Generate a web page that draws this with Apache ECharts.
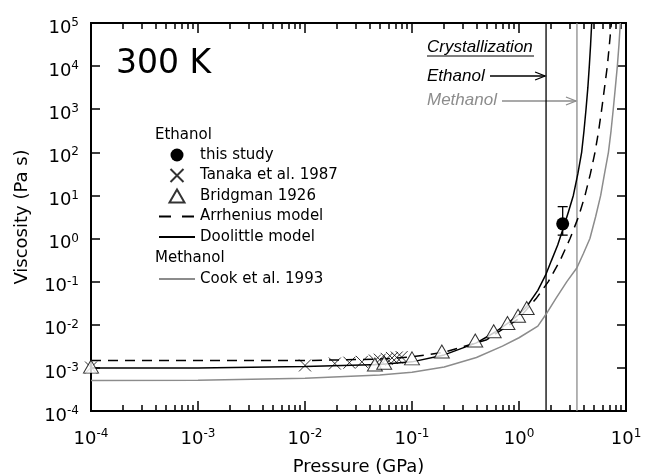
<!DOCTYPE html>
<html>
<head>
<meta charset="utf-8">
<script src="https://cdn.jsdelivr.net/npm/echarts@6/dist/echarts.min.js"></script>
<style>
html, body { margin: 0; padding: 0; background: #fff; }
#chart { width: 653px; height: 476px; }
</style>
</head>
<body>
<div id="chart"></div>
<script>
// pressure (GPa), viscosity (Pa s)
const thisStudy = [[2.56, 2.2]]
const thisStudyErr = [[2.56, 1.2, 5.5]]  // x, low, high

const tanaka1987 = [
  [1e-4, 1.02e-3], [0.01, 1.14e-3], [0.019, 1.26e-3], [0.026, 1.32e-3],
  [0.034, 1.38e-3], [0.045, 1.48e-3], [0.05, 1.55e-3], [0.058, 1.62e-3],
  [0.065, 1.7e-3], [0.072, 1.74e-3], [0.08, 1.78e-3]
]

const bridgman1926 = [
  [1e-4, 1.07e-3], [0.045, 1.2e-3], [0.055, 1.32e-3], [0.1, 1.66e-3],
  [0.19, 2.4e-3], [0.39, 4.3e-3], [0.58, 7.1e-3], [0.78, 1.1e-2],
  [0.98, 1.62e-2], [1.18, 2.45e-2]
]

const arrhenius = [
  [1e-4, 1.48e-3], [0.01, 1.48e-3], [0.05, 1.6e-3], [0.1, 1.8e-3],
  [0.2, 2.3e-3], [0.5, 4.5e-3], [1.0, 1.4e-2], [1.46, 4.2e-2],
  [1.88, 0.1], [2.45, 0.33], [3.0, 1.0], [3.6, 3.2], [4.14, 10],
  [4.65, 32], [5.13, 100], [5.55, 316], [5.93, 1000], [6.3, 3160],
  [6.69, 1e4], [7.0, 3.2e4], [7.3, 1e5]
]

const doolittle = [
  [1e-4, 1.0e-3], [1e-3, 1.0e-3], [0.01, 1.07e-3], [0.05, 1.2e-3],
  [0.1, 1.38e-3], [0.2, 2.0e-3], [0.4, 3.8e-3], [0.6, 6.8e-3],
  [0.8, 1.12e-2], [1.0, 1.74e-2], [1.2, 2.8e-2], [1.5, 6.3e-2],
  [1.79, 0.15], [2.0, 0.3], [2.3, 0.71], [2.6, 1.78], [2.9, 4.2],
  [3.22, 10], [3.55, 32], [3.85, 100], [4.05, 316], [4.23, 1000],
  [4.4, 3160], [4.54, 1e4], [4.67, 3.2e4], [4.78, 1e5]
]

const cook1993 = [
  [1e-4, 5.1e-4], [1e-3, 5.2e-4], [0.01, 5.75e-4], [0.05, 6.8e-4],
  [0.1, 7.9e-4], [0.2, 1.05e-3], [0.4, 1.74e-3], [0.7, 3.2e-3],
  [1.0, 5.0e-3], [1.5, 9.3e-3], [1.8, 1.8e-2], [2.2, 4.0e-2],
  [2.8, 0.1], [3.48, 0.21], [4.0, 0.45], [4.6, 1.0], [5.2, 3.2],
  [5.8, 10], [6.3, 32], [6.85, 100], [7.25, 316], [7.6, 1000],
  [7.95, 3160], [8.3, 1e4], [8.6, 3.2e4], [8.85, 1e5]
]

// crystallization pressures (GPa)
const crystEthanol = 1.79
const crystMethanol = 3.48

const xMajor = [1e-4, 1e-3, 1e-2, 1e-1, 1, 10]
const yMajor = [1e-4, 1e-3, 1e-2, 1e-1, 1, 10, 100, 1e3, 1e4, 1e5]
const xMinor = []
xMajor.slice(0, -1).forEach(d => {
  for (let k = 2; k <= 9; k++) xMinor.push(k * d)
})

const font = 'DejaVu Sans'
const gray = '#8c8c8c'
const triangle = 'path://M5,0L10,8.66L0,8.66Z'

const powLabel = v => '{b|10}{s|' + Math.round(Math.log10(v)) + '}'
const powRich = {
  b: { fontSize: 18, fontFamily: font, color: '#000', lineHeight: 22 },
  s: { fontSize: 12, fontFamily: font, color: '#000', lineHeight: 16, verticalAlign: 'top' }
}

function logAxis (min, max, pos, ticks, len, extra) {
  return Object.assign({
    type: 'log',
    logBase: 10,
    min: min,
    max: max,
    position: pos,
    splitLine: { show: false },
    minorTick: { show: false },
    axisLine: { show: true, lineStyle: { color: '#000', width: 2 } },
    axisTick: { show: true, inside: true, length: len, customValues: ticks, lineStyle: { color: '#000', width: 1.5 } },
    axisLabel: { show: false }
  }, extra || {})
}

const chart = echarts.init(document.getElementById('chart'))

const lineLegendStyle = { color: 'transparent', borderColor: 'transparent' }

const option = {
  animation: false,
  backgroundColor: '#fff',
  grid: { left: 91, right: 27, top: 23, bottom: 65, containLabel: false, outerBoundsMode: 'none' },
  xAxis: [
    logAxis(1e-4, 10, 'bottom', xMajor, 10, {
      axisLabel: { show: true, customValues: xMajor, formatter: powLabel, rich: powRich, margin: 17 },
      name: 'Pressure (GPa)',
      nameLocation: 'middle',
      nameGap: 47,
      nameTextStyle: { fontFamily: font, fontSize: 18, color: '#000' }
    }),
    logAxis(1e-4, 10, 'bottom', xMinor, 6),
    logAxis(1e-4, 10, 'top', xMajor, 10),
    logAxis(1e-4, 10, 'top', xMinor, 6)
  ],
  yAxis: [
    logAxis(1e-4, 1e5, 'left', yMajor, 9, {
      axisLabel: { show: true, customValues: yMajor, formatter: powLabel, rich: powRich, margin: 12, padding: [10, 0, 0, 0] },
      name: 'Viscosity (Pa s)',
      nameLocation: 'middle',
      nameGap: 60,
      nameTextStyle: { fontFamily: font, fontSize: 18, color: '#000' }
    }),
    logAxis(1e-4, 1e5, 'right', yMajor, 9)
  ],
  legend: [
    {
      orient: 'vertical',
      left: 158,
      top: 147.5,
      padding: 0,
      itemWidth: 36,
      itemHeight: 13,
      itemGap: 5.5,
      selectedMode: false,
      textStyle: { fontFamily: font, fontSize: 15, color: '#000', lineHeight: 15 },
      data: [
        'this study',
        'Tanaka et al. 1987',
        'Bridgman 1926',
        { name: 'Arrhenius model', lineStyle: { type: [12, 11] }, itemStyle: lineLegendStyle },
        { name: 'Doolittle model', itemStyle: lineLegendStyle }
      ]
    },
    {
      orient: 'vertical',
      left: 158,
      top: 271.5,
      padding: 0,
      itemWidth: 36,
      itemHeight: 13,
      selectedMode: false,
      textStyle: { fontFamily: font, fontSize: 15, color: '#000', lineHeight: 15 },
      data: [{ name: 'Cook et al. 1993', itemStyle: lineLegendStyle }]
    }
  ],
  series: [
    {
      name: 'crystallization methanol',
      type: 'line',
      data: [[crystMethanol, 1e-4], [crystMethanol, 1e5]],
      symbol: 'none',
      lineStyle: { color: gray, width: 1.3 },
      z: 1
    },
    {
      name: 'crystallization ethanol',
      type: 'line',
      data: [[crystEthanol, 1e-4], [crystEthanol, 1e5]],
      symbol: 'none',
      lineStyle: { color: '#000', width: 1.3 },
      z: 1
    },
    {
      name: 'Cook et al. 1993',
      type: 'line',
      data: cook1993,
      symbol: 'none',
      lineStyle: { color: gray, width: 1.5 },
      itemStyle: { color: 'transparent' },
      z: 2
    },
    {
      name: 'Arrhenius model',
      type: 'line',
      data: arrhenius,
      symbol: 'none',
      lineStyle: { color: '#000', width: 1.5, type: [10, 7] },
      itemStyle: { color: 'transparent' },
      z: 3
    },
    {
      name: 'Doolittle model',
      type: 'line',
      data: doolittle,
      symbol: 'none',
      lineStyle: { color: '#000', width: 1.5 },
      itemStyle: { color: 'transparent' },
      z: 3
    },
    {
      name: 'Tanaka et al. 1987',
      type: 'scatter',
      data: tanaka1987,
      symbol: 'path://M0,0L10,10M10,0L0,10',
      symbolSize: 12,
      itemStyle: { color: 'transparent', borderColor: '#000', borderWidth: 1 },
      z: 4
    },
    {
      name: 'Bridgman 1926',
      type: 'scatter',
      data: bridgman1926,
      symbol: triangle,
      symbolSize: [15, 13],
      itemStyle: { color: '#fff', borderColor: '#000', borderWidth: 1 },
      z: 5
    },
    {
      name: 'error',
      type: 'custom',
      data: thisStudyErr,
      encode: { x: 0, y: [1, 2] },
      renderItem: function (params, api) {
        const lo = api.coord([api.value(0), api.value(1)])
        const hi = api.coord([api.value(0), api.value(2)])
        const st = { stroke: '#000', lineWidth: 1.3 }
        return {
          type: 'group',
          children: [
            { type: 'line', shape: { x1: lo[0], y1: lo[1], x2: hi[0], y2: hi[1] }, style: st },
            { type: 'line', shape: { x1: lo[0] - 5, y1: lo[1], x2: lo[0] + 5, y2: lo[1] }, style: st },
            { type: 'line', shape: { x1: hi[0] - 5, y1: hi[1], x2: hi[0] + 5, y2: hi[1] }, style: st }
          ]
        }
      },
      z: 6
    },
    {
      name: 'this study',
      type: 'scatter',
      data: thisStudy,
      symbol: 'circle',
      symbolSize: 13,
      itemStyle: { color: '#000', opacity: 1 },
      z: 7
    }
  ]
}

chart.setOption(option)

// annotations: arrows point at the crystallization lines
const ex = chart.convertToPixel({ xAxisIndex: 0 }, crystEthanol)
const mx = chart.convertToPixel({ xAxisIndex: 0 }, crystMethanol)
const ital = 'italic 17px "Liberation Sans"'

chart.setOption({
  graphic: [
    { type: 'text', x: 116, y: 64, style: { text: '300 K', font: '33px "DejaVu Sans"', fill: '#000', textVerticalAlign: 'middle' } },
    { type: 'text', x: 155, y: 135, style: { text: 'Ethanol', font: '15px "DejaVu Sans"', fill: '#000', textVerticalAlign: 'middle' } },
    { type: 'text', x: 155, y: 258, style: { text: 'Methanol', font: '15px "DejaVu Sans"', fill: '#000', textVerticalAlign: 'middle' } },
    { type: 'text', x: 427, y: 47, style: { text: 'Crystallization', font: ital, fill: '#000', textVerticalAlign: 'middle' } },
    { type: 'line', shape: { x1: 427, y1: 56, x2: 534, y2: 56 }, style: { stroke: '#000', lineWidth: 1.2 } },
    { type: 'text', x: 427, y: 76, style: { text: 'Ethanol', font: ital, fill: '#000', textVerticalAlign: 'middle' } },
    { type: 'line', shape: { x1: 490, y1: 76, x2: ex - 1, y2: 76 }, style: { stroke: '#000', lineWidth: 1.3 } },
    { type: 'polyline', shape: { points: [[ex - 11, 72], [ex - 1, 76], [ex - 11, 80]] }, style: { stroke: '#000', lineWidth: 1.3, fill: null } },
    { type: 'text', x: 427, y: 100, style: { text: 'Methanol', font: ital, fill: gray, textVerticalAlign: 'middle' } },
    { type: 'line', shape: { x1: 502, y1: 101, x2: mx - 1, y2: 101 }, style: { stroke: gray, lineWidth: 1.3 } },
    { type: 'polyline', shape: { points: [[mx - 11, 97], [mx - 1, 101], [mx - 11, 105]] }, style: { stroke: gray, lineWidth: 1.3, fill: null } }
  ]
})
</script>
</body>
</html>
